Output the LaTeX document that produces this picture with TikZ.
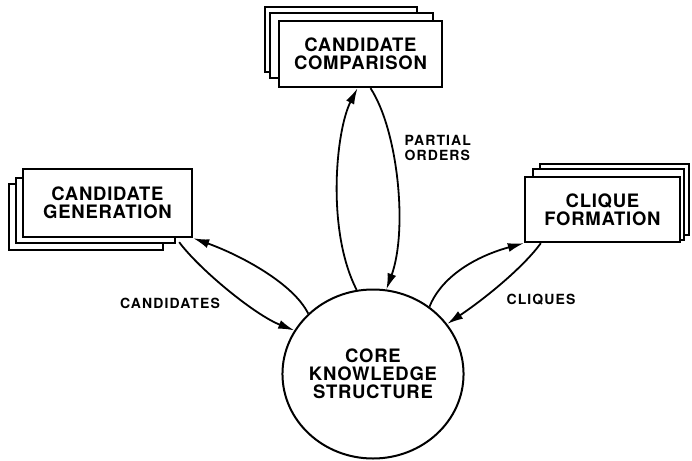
\documentclass[tikz,border=0pt]{standalone}
\usepackage{fontspec}
\setmainfont{TeX Gyre Heros}
\newfontfamily\boxfont[LetterSpace=4]{TeX Gyre Heros}
\newfontfamily\lblfont[LetterSpace=8]{TeX Gyre Heros}
\usetikzlibrary{shapes.geometric,arrows.meta}
\begin{document}
\begin{tikzpicture}[x=1pt,y=-1pt,
  boxtext/.style={font=\boxfont\fontsize{18.5}{18}\selectfont\bfseries, align=center},
  procbox/.style={draw, line width=2.4pt, fill=white, rectangle, boxtext, inner sep=0pt},
  backbox/.style={draw, line width=2pt, fill=white},
  flow/.style={line width=1.8pt, -{Latex[length=16pt,width=9pt]}},
  lbl/.style={font=\lblfont\fontsize{14}{15}\selectfont\bfseries, align=left}
]
\useasboundingbox (0,0) rectangle (692,460);

% stacked back sheets
\draw[backbox] (265,7) rectangle (417,72);
\draw[backbox] (270,13) rectangle (433,78);
\draw[backbox] (9,184) rectangle (163,250);
\draw[backbox] (16,178) rectangle (175,243);
\draw[backbox] (540,164) rectangle (689,235);
\draw[backbox] (533,169) rectangle (684,240);

% front boxes
\node[procbox, minimum width=163pt, minimum height=66pt] (comp) at (360.5,54) {CANDIDATE\\COMPARISON};
\node[procbox, minimum width=169pt, minimum height=68pt] (gen) at (107.5,203) {CANDIDATE\\GENERATION};
\node[procbox, minimum width=155pt, minimum height=65pt] (cliq) at (602.5,209.5) {CLIQUE\\FORMATION};

% core
\node[draw, ellipse, line width=2pt, minimum width=180pt, minimum height=169pt, boxtext, inner sep=0pt] (core) at (373,374) {CORE\\KNOWLEDGE\\STRUCTURE};

% connectors
\draw[flow] (core.137) .. controls (293,283) and (240,255) .. (gen.south east);
\draw[flow] ([xshift=-14pt,yshift=-4pt]gen.south east) .. controls (200,270) and (255,315) .. (core.151);
\draw[flow] (core.101) .. controls (326,230) and (336,130) .. ([xshift=-3pt]comp.south);
\draw[flow] ([xshift=10pt]comp.south) .. controls (398,130) and (408,230) .. (core.81);
\draw[flow] (core.50) .. controls (440,280) and (470,258) .. (cliq.south west);
\draw[flow] ([xshift=17pt]cliq.south west) .. controls (525,265) and (490,295) .. (core.34);

% labels
\node[lbl] (lcand) at (170,303) {CANDIDATES};
\node[lbl, anchor=west] (lpart) at (401,148) {PARTIAL\\ORDERS};
\node[lbl] (lcliq) at (541,300) {CLIQUES};
\end{tikzpicture}
\end{document}
